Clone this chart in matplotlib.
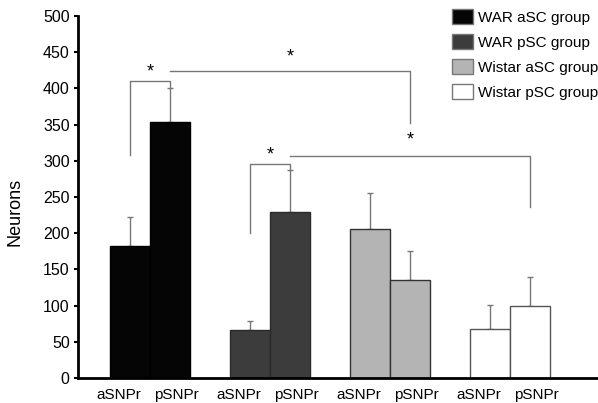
import matplotlib.pyplot as plt
import numpy as np

plt.rcParams['font.family'] = ['Liberation Sans', 'DejaVu Sans']

groups = ['WAR aSC group', 'WAR pSC group', 'Wistar aSC group', 'Wistar pSC group']
regions = ['aSNPr', 'pSNPr']
means = [[182, 353], [66, 229], [206, 136], [68, 99]]
err_top = [[222, 400], [79, 287], [255, 175], [101, 139]]
face = ['#050505', '#3c3c3c', '#b4b4b4', '#ffffff']
edge = ['#000000', '#2a2a2a', '#333333', '#555555']

# significance brackets: (from bar, to bar, left foot, top, right foot, star y)
brackets = [
    ((0, 0), (0, 1), 308, 410, 400, 422),
    ((0, 1), (2, 1), 424, 424, 352, 443),
    ((1, 0), (1, 1), 200, 296, 287, 308),
    ((1, 1), (3, 1), 307, 307, 236, 329),
]

fig = plt.figure(figsize=(5.98, 4.03), dpi=100)
ax = fig.add_axes([78 / 598, 25 / 403, 520 / 598, 362 / 403])

def xpos(g, r):
    return g * 3 + r

for g in range(4):
    xs = [xpos(g, r) for r in range(2)]
    ax.bar(xs, means[g], width=1.0, color=face[g], edgecolor=edge[g],
           linewidth=1.0, label=groups[g], zorder=2)
    yerr = [np.zeros(2), np.array(err_top[g]) - np.array(means[g])]
    ax.errorbar(xs, means[g], yerr=yerr, fmt='none', ecolor='#777777',
                elinewidth=1.0, capsize=2, capthick=1.0, zorder=1)

for a, b, yl, yt, yr, ys in brackets:
    x1, x2 = xpos(*a), xpos(*b)
    ax.plot([x1, x1, x2, x2], [yl, yt, yt, yr], color='#777777', lw=1.0, zorder=3)
    ax.text((x1 + x2) / 2, ys, '*', ha='center', va='center', fontsize=13)

ax.set_xlim(-1.3, 11.7)
ax.set_ylim(0, 500)
ax.set_yticks(np.arange(0, 501, 50))
# labels sit a little apart from the bar centres, as in the original
ax.set_xticks([xpos(g, r) + (-0.27 if r == 0 else 0.15) for g in range(4) for r in range(2)])
ax.set_xticklabels(regions * 4)
ax.tick_params(axis='x', length=0, pad=7, labelsize=11)
ax.tick_params(axis='y', direction='out', length=3, width=1.5, labelsize=11.5, pad=3)
ax.spines['top'].set_visible(False)
ax.spines['right'].set_visible(False)
ax.spines['left'].set_linewidth(2)
ax.spines['bottom'].set_linewidth(2)
ax.set_ylabel('Neurons', fontsize=13)
ax.yaxis.set_label_coords(-0.105, 0.46)

leg = ax.legend(loc='upper right', bbox_to_anchor=(1.012, 1.035), frameon=False,
                fontsize=11, handlelength=1.35, handleheight=1.1,
                handletextpad=0.35, labelspacing=0.62, borderaxespad=0)
for h in leg.legend_handles:
    h.set_edgecolor('#777777')

fig.savefig('out.png', dpi=100)
